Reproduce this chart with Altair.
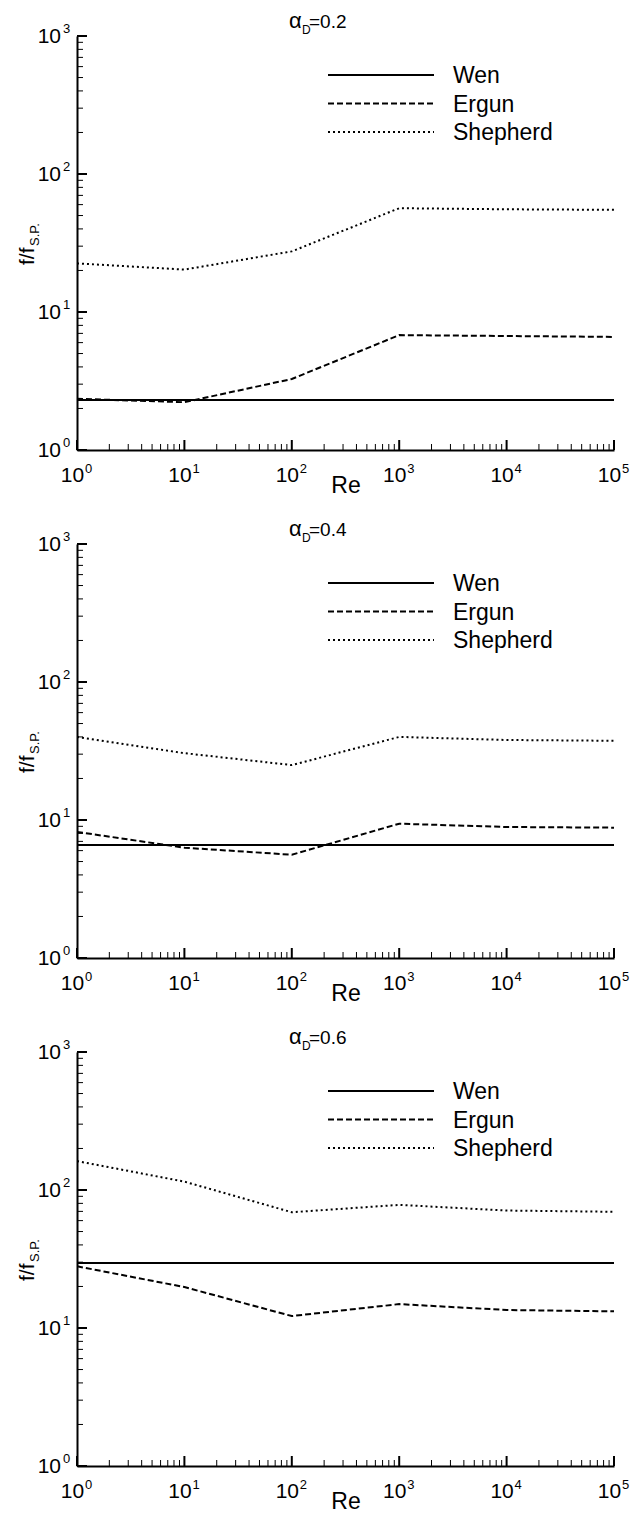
import altair as alt
import pandas as pd

FONT = "Liberation Sans"

# ---------------- data ----------------
re_vals = [1, 10, 100, 1000, 10000, 100000]
panels = ["0.2", "0.4", "0.6"]
models = ["Wen", "Ergun", "Shepherd"]

wen_02 = [2.3, 2.3, 2.3, 2.3, 2.3, 2.3]
ergun_02 = [2.35, 2.22, 3.27, 6.8, 6.7, 6.6]
shepherd_02 = [22.5, 20.3, 27.5, 56.5, 55.5, 55.0]

wen_04 = [6.6, 6.6, 6.6, 6.6, 6.6, 6.6]
ergun_04 = [8.2, 6.3, 5.6, 9.4, 8.9, 8.8]
shepherd_04 = [40.0, 30.5, 25.0, 40.0, 38.0, 37.5]

wen_06 = [29.6, 29.6, 29.6, 29.6, 29.6, 29.6]
ergun_06 = [28.0, 19.8, 12.2, 14.9, 13.5, 13.2]
shepherd_06 = [162.0, 115.0, 69.0, 78.0, 71.0, 69.5]

series = {
    "0.2": {"Wen": wen_02, "Ergun": ergun_02, "Shepherd": shepherd_02},
    "0.4": {"Wen": wen_04, "Ergun": ergun_04, "Shepherd": shepherd_04},
    "0.6": {"Wen": wen_06, "Ergun": ergun_06, "Shepherd": shepherd_06},
}

# axis ticks / labels
x_major = [1, 10, 100, 1000, 10000, 100000]
x_exp = ["0", "1", "2", "3", "4", "5"]
x_minor = [m * 10 ** k for k in range(5) for m in range(2, 10)]
y_major = [1, 10, 100, 1000]
y_exp = ["0", "1", "2", "3"]
y_minor = [m * 10 ** k for k in range(3) for m in range(2, 10)]

W, H = 537, 414
dashes = [[1, 0], [6, 3], [2, 3]]


def one():
    return alt.Data(values=[{"k": 1}])


def panel(key):
    rows = []
    for m in models:
        for r, v in zip(re_vals, series[key][m]):
            rows.append({"Re": r, "value": v, "model": m})
    df = pd.DataFrame(rows)

    xs = alt.Scale(type="log", domain=[1, 100000], nice=False)
    ys = alt.Scale(type="log", domain=[1, 1000], nice=False)
    ax = alt.Axis(title=None, labels=False, ticks=False, grid=False,
                  domainColor="black", domainWidth=2)

    def X(f):
        return alt.X(f, scale=xs, axis=ax)

    def Y(f):
        return alt.Y(f, scale=ys, axis=ax)

    lines = alt.Chart(df).mark_line(color="black", strokeWidth=2, clip=True).encode(
        x=X("Re:Q"),
        y=Y("value:Q"),
        strokeDash=alt.StrokeDash("model:N", scale=alt.Scale(domain=models, range=dashes), legend=None),
    )

    xminor = alt.Chart(pd.DataFrame({"Re": x_minor})).mark_rule(color="black", strokeWidth=1).encode(
        x=X("Re:Q"), y=alt.value(H), y2=alt.value(H - 6))
    xmajor = alt.Chart(pd.DataFrame({"Re": x_major})).mark_rule(color="black", strokeWidth=2).encode(
        x=X("Re:Q"), y=alt.value(H), y2=alt.value(H - 10))
    yminor = alt.Chart(pd.DataFrame({"value": y_minor})).mark_rule(color="black", strokeWidth=1).encode(
        y=Y("value:Q"), x=alt.value(0), x2=alt.value(6))
    ymajor = alt.Chart(pd.DataFrame({"value": y_major})).mark_rule(color="black", strokeWidth=2).encode(
        y=Y("value:Q"), x=alt.value(0), x2=alt.value(10))

    xl_df = pd.DataFrame({"Re": x_major, "e": x_exp, "b": ["10"] * len(x_major)})
    xlab = alt.Chart(xl_df).mark_text(font=FONT, fontSize=21, align="center", baseline="alphabetic",
                                      dx=-4.5, color="black").encode(
        x=X("Re:Q"), y=alt.value(H + 32), text="b:N")
    xsup = alt.Chart(xl_df).mark_text(font=FONT, fontSize=13, align="left", baseline="alphabetic",
                                      dx=8, color="black").encode(
        x=X("Re:Q"), y=alt.value(H + 23), text="e:N")

    yl_df = pd.DataFrame({"value": y_major, "e": y_exp, "b": ["10"] * len(y_major)})
    ylab = alt.Chart(yl_df).mark_text(font=FONT, fontSize=21, align="right", baseline="alphabetic",
                                      dy=7, color="black").encode(
        y=Y("value:Q"), x=alt.value(-16), text="b:N")
    ysup = alt.Chart(yl_df).mark_text(font=FONT, fontSize=13, align="left", baseline="alphabetic",
                                      dy=-3, color="black").encode(
        y=Y("value:Q"), x=alt.value(-14), text="e:N")

    layers = [lines, xminor, xmajor, yminor, ymajor, xlab, xsup, ylab, ysup]

    # title  alpha_D = value
    layers.append(alt.Chart(one()).mark_text(font=FONT, fontSize=22, align="left", baseline="alphabetic",
                                             text="α", color="black").encode(x=alt.value(212), y=alt.value(-8)))
    layers.append(alt.Chart(one()).mark_text(font=FONT, fontSize=12, align="left", baseline="alphabetic",
                                             text="D", color="black").encode(x=alt.value(225), y=alt.value(-2)))
    layers.append(alt.Chart(one()).mark_text(font=FONT, fontSize=19, align="left", baseline="alphabetic",
                                             text="=" + key, color="black").encode(x=alt.value(232), y=alt.value(-8)))

    # y title f/f_S.P.
    layers.append(alt.Chart(one()).mark_text(font=FONT, fontSize=21, align="left", baseline="alphabetic",
                                             angle=270, text="f/f", color="black").encode(
        x=alt.value(-43), y=alt.value(229)))
    layers.append(alt.Chart(one()).mark_text(font=FONT, fontSize=13, align="left", baseline="alphabetic",
                                             angle=270, text="S.P.", color="black").encode(
        x=alt.value(-38), y=alt.value(210)))

    # x title
    layers.append(alt.Chart(one()).mark_text(font=FONT, fontSize=23, align="center", baseline="alphabetic",
                                             text="Re", color="black").encode(
        x=alt.value(269), y=alt.value(H + 43)))

    # legend
    leg_line_y = [39, 67.5, 96]
    leg_text_y = [47, 75.5, 103.5]
    for m, d, ly, ty in zip(models, dashes, leg_line_y, leg_text_y):
        layers.append(alt.Chart(one()).mark_rule(color="black", strokeWidth=2, strokeDash=d).encode(
            x=alt.value(251), x2=alt.value(357), y=alt.value(ly)))
        layers.append(alt.Chart(one()).mark_text(font=FONT, fontSize=23, align="left", baseline="alphabetic",
                                                 text=m, color="black").encode(
            x=alt.value(376), y=alt.value(ty)))

    return alt.layer(*layers).properties(width=W, height=H)


chart = alt.vconcat(*[panel(k) for k in panels], spacing=94, bounds="flush").properties(
    padding={"left": 17, "top": 10, "right": 0, "bottom": 0},
    background="white",
).configure_view(stroke=None)

chart.save("out.html", embed_options={"renderer": "svg", "actions": False})
